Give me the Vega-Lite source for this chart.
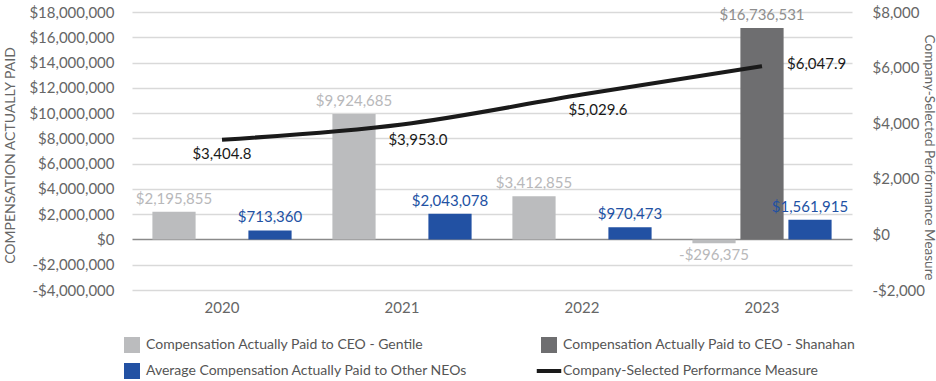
{
  "$schema": "https://vega.github.io/schema/vega-lite/v6.json",
  "width": 720,
  "height": 278,
  "autosize": {"type": "none"},
  "padding": {"left": 132, "top": 12, "right": 84, "bottom": 91},
  "background": "white",
  "config": {
    "font": "Lato",
    "view": {"stroke": null},
    "locale": {"number": {"decimal": ".", "thousands": ",", "grouping": [3], "currency": ["$", ""], "minus": "-"}}
  },
  "datasets": {
    "bars": [
      {"year": "2020", "series": "Compensation Actually Paid to CEO - Gentile", "value": 2195855},
      {"year": "2020", "series": "Average Compensation Actually Paid to Other NEOs", "value": 713360},
      {"year": "2021", "series": "Compensation Actually Paid to CEO - Gentile", "value": 9924685},
      {"year": "2021", "series": "Average Compensation Actually Paid to Other NEOs", "value": 2043078},
      {"year": "2022", "series": "Compensation Actually Paid to CEO - Gentile", "value": 3412855},
      {"year": "2022", "series": "Average Compensation Actually Paid to Other NEOs", "value": 970473},
      {"year": "2023", "series": "Compensation Actually Paid to CEO - Gentile", "value": -296375},
      {"year": "2023", "series": "Compensation Actually Paid to CEO - Shanahan", "value": 16736531},
      {"year": "2023", "series": "Average Compensation Actually Paid to Other NEOs", "value": 1561915}
    ],
    "perf": [
      {"year": "2020", "measure": 3404.8},
      {"year": "2021", "measure": 3953.0},
      {"year": "2022", "measure": 5029.6},
      {"year": "2023", "measure": 6047.9}
    ]
  },
  "encoding": {
    "x": {
      "field": "year", "type": "nominal",
      "scale": {"paddingInner": 0, "paddingOuter": 0},
      "axis": {"title": null, "labelAngle": 0, "domain": false, "ticks": false, "labelPadding": 10, "labelFontSize": 15, "labelColor": "#666666", "labelFont": "Lato"}
    }
  },
  "layer": [
    {
      "data": {"name": "bars"},
      "encoding": {
        "y": {
          "field": "value", "type": "quantitative",
          "scale": {"domain": [-4000000, 18000000], "nice": false, "zero": false},
          "axis": {
            "orient": "left",
            "title": "COMPENSATION ACTUALLY PAID",
            "titleColor": "#666666", "titleFontSize": 14, "titleFontWeight": "normal", "titleFont": "Lato",
            "titleAngle": 270, "titleX": -122, "titleY": 143, "titleBaseline": "middle", "titleAlign": "center",
            "values": [-4000000, -2000000, 0, 2000000, 4000000, 6000000, 8000000, 10000000, 12000000, 14000000, 16000000, 18000000],
            "format": "$,.0f",
            "labelFontSize": 15, "labelColor": "#666666", "labelPadding": 18, "labelFont": "Lato",
            "domain": false, "ticks": false,
            "grid": true,
            "gridColor": {"condition": {"test": "datum.value === 0", "value": "#8a8a8a"}, "value": "#d9d9d9"},
            "gridWidth": 1.5
          }
        },
        "xOffset": {
          "field": "series", "type": "nominal",
          "scale": {"domain": ["Compensation Actually Paid to CEO - Gentile", "Compensation Actually Paid to CEO - Shanahan", "Average Compensation Actually Paid to Other NEOs"], "paddingInner": 0.1, "paddingOuter": 0.425}
        }
      },
      "layer": [
        {
          "mark": {"type": "bar"},
          "encoding": {
            "color": {
              "field": "series", "type": "nominal",
              "scale": {
                "domain": ["Compensation Actually Paid to CEO - Gentile", "Compensation Actually Paid to CEO - Shanahan", "Average Compensation Actually Paid to Other NEOs", "Company-Selected Performance Measure"],
                "range": ["#bbbcbe", "#6e6e70", "#2251a3", "#1a1a1a"]
              },
              "legend": {
                "title": null,
                "orient": "none",
                "legendX": -7,
                "legendY": 326,
                "direction": "horizontal",
                "columns": 2,
                "columnPadding": 60,
                "rowPadding": 10,
                "labelFontSize": 14,
                "labelColor": "#555555",
                "labelFont": "Lato",
                "labelOffset": 7,
                "labelLimit": 500,
                "symbolSize": 256,
                "encode": {
                  "symbols": {
                    "update": {
                      "shape": {"signal": "datum.value === 'Company-Selected Performance Measure' ? 'stroke' : 'square'"},
                      "fill": {"scale": "color", "field": "value"},
                      "stroke": {"scale": "color", "field": "value"},
                      "strokeWidth": {"signal": "datum.value === 'Company-Selected Performance Measure' ? 4 : 0"},
                      "size": {"signal": "datum.value === 'Company-Selected Performance Measure' ? 600 : 256"},
                      "opacity": {"value": 1}
                    }
                  }
                }
              }
            }
          }
        },
        {
          "transform": [{"filter": "datum.value >= 0"}],
          "mark": {"type": "text", "baseline": "bottom", "dy": -5, "fontSize": 15, "font": "Lato"},
          "encoding": {
            "text": {"field": "value", "type": "quantitative", "format": "$,.0f"},
            "fill": {
              "field": "series", "type": "nominal", "legend": null,
              "scale": {"domain": ["Compensation Actually Paid to CEO - Gentile", "Compensation Actually Paid to CEO - Shanahan", "Average Compensation Actually Paid to Other NEOs"], "range": ["#b8b8ba", "#8e8e8e", "#2251a3"]}
            }
          }
        },
        {
          "transform": [{"filter": "datum.value < 0"}],
          "mark": {"type": "text", "baseline": "top", "dy": 5, "fontSize": 15, "font": "Lato"},
          "encoding": {
            "text": {"field": "value", "type": "quantitative", "format": "$,.0f"},
            "fill": {
              "field": "series", "type": "nominal", "legend": null,
              "scale": {"domain": ["Compensation Actually Paid to CEO - Gentile", "Compensation Actually Paid to CEO - Shanahan", "Average Compensation Actually Paid to Other NEOs"], "range": ["#b8b8ba", "#8e8e8e", "#2251a3"]}
            }
          }
        }
      ]
    },
    {
      "data": {"name": "perf"},
      "encoding": {
        "y": {
          "field": "measure", "type": "quantitative",
          "scale": {"domain": [-2000, 8000], "nice": false, "zero": false},
          "axis": {
            "orient": "right",
            "title": "Company-Selected Performance Measure",
            "titleAngle": 90, "titleX": 76, "titleY": 145, "titleBaseline": "middle", "titleAlign": "center",
            "titleColor": "#666666", "titleFontSize": 13.5, "titleFontWeight": "normal", "titleFont": "Lato",
            "values": [-2000, 0, 2000, 4000, 6000, 8000],
            "format": "$,.0f",
            "labelFontSize": 15, "labelColor": "#666666", "labelPadding": 20, "labelFont": "Lato",
            "domain": false, "ticks": false, "grid": false
          }
        }
      },
      "layer": [
        {
          "mark": {"type": "line", "strokeWidth": 4, "interpolate": "monotone"},
          "encoding": {
            "color": {"datum": "Company-Selected Performance Measure", "type": "nominal"}
          }
        },
        {
          "transform": [{"filter": "datum.year === '2020'"}],
          "mark": {"type": "text", "baseline": "middle", "dy": 14, "fontSize": 15, "font": "Lato", "color": "#1a1a1a"},
          "encoding": {"text": {"field": "measure", "type": "quantitative", "format": "$,.1f"}}
        },
        {
          "transform": [{"filter": "datum.year === '2021' || datum.year === '2022'"}],
          "mark": {"type": "text", "baseline": "middle", "dx": 16, "dy": 15, "fontSize": 15, "font": "Lato", "color": "#1a1a1a"},
          "encoding": {"text": {"field": "measure", "type": "quantitative", "format": "$,.1f"}}
        },
        {
          "transform": [{"filter": "datum.year === '2023'"}],
          "mark": {"type": "text", "baseline": "middle", "align": "left", "dx": 25, "dy": -2, "fontSize": 15, "font": "Lato", "color": "#1a1a1a"},
          "encoding": {"text": {"field": "measure", "type": "quantitative", "format": "$,.1f"}}
        }
      ]
    }
  ],
  "resolve": {"scale": {"y": "independent", "fill": "independent"}}
}
